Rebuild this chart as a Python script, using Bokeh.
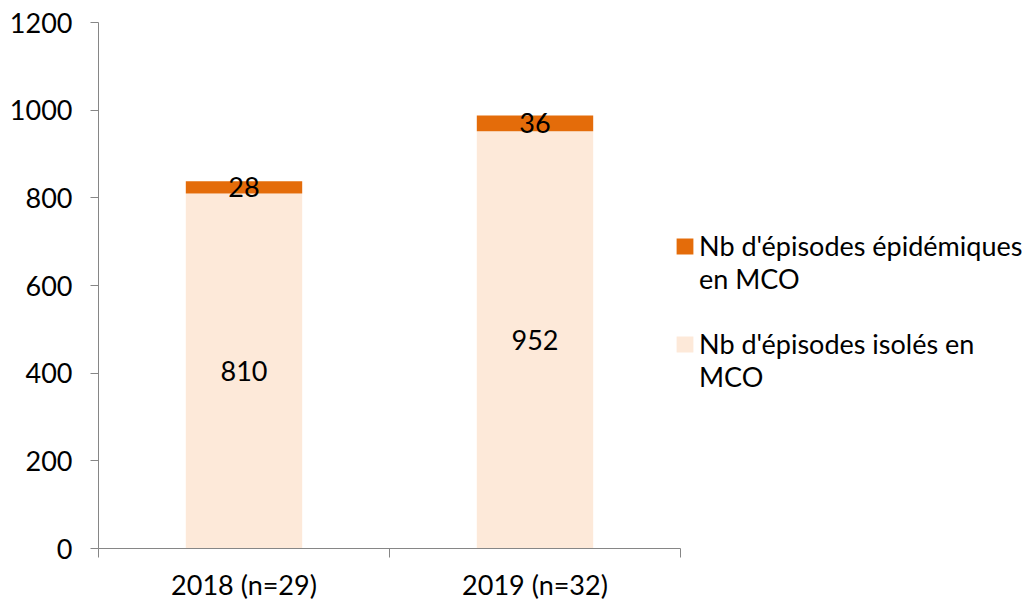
from bokeh.plotting import figure
from bokeh.models import ColumnDataSource, Range1d, LinearAxis, FixedTicker, Legend, LegendItem, LabelSet
from bokeh.core.properties import value
from bokeh.embed import file_html
from bokeh.resources import INLINE

categories = ["2018 (n=29)", "2019 (n=32)"]
isoles = [810, 952]
epidemiques = [28, 36]
yticks = [0, 200, 400, 600, 800, 1000, 1200]
legend_epi = ["Nb d'épisodes épidémiques", "en MCO"]
legend_iso = ["Nb d'épisodes isolés en", "MCO"]

FONT = "Lato"
FS = "27px"
C_EPI = "#E46C0A"
C_ISO = "#FDE9D9"
AXIS_C = "#868686"

xpos = [i + 0.5 for i in range(len(categories))]
src = ColumnDataSource(dict(
    x=xpos,
    isoles=isoles,
    epid=epidemiques,
    iso_mid=[v / 2 for v in isoles],
    epi_mid=[a + b / 2 for a, b in zip(isoles, epidemiques)],
    iso_lbl=[str(v) for v in isoles],
    epi_lbl=[str(v) for v in epidemiques],
))

p = figure(width=1015, height=584, output_backend="svg", toolbar_location=None,
           x_range=Range1d(0, len(categories)), y_range=Range1d(0, 1200),
           frame_width=582, frame_height=526,
           min_border_left=98, min_border_top=22, min_border_right=343, min_border_bottom=50,
           x_axis_location=None, y_axis_location=None)
p.outline_line_color = None
p.xgrid.visible = False
p.ygrid.visible = False
p.background_fill_color = "white"
p.border_fill_color = "white"

rs = p.vbar_stack(["isoles", "epid"], x="x", width=0.4, source=src,
                  color=[C_ISO, C_EPI], line_color=None)
# invisible renderer used only for continuation lines of the legend
blank = p.scatter(x=[], y=[], alpha=0)

# y axis
yax = LinearAxis(ticker=FixedTicker(ticks=yticks))
yax.axis_line_color = AXIS_C
yax.major_tick_line_color = AXIS_C
yax.major_tick_out = 8
yax.major_tick_in = 0
yax.minor_tick_line_color = None
yax.major_label_standoff = 18
yax.major_label_text_font = FONT
yax.major_label_text_font_size = FS
yax.major_label_text_color = "black"
p.add_layout(yax, "left")

# x axis: boundary ticks
xax = LinearAxis(ticker=FixedTicker(ticks=list(range(len(categories) + 1))))
xax.axis_line_color = AXIS_C
xax.major_tick_line_color = AXIS_C
xax.major_tick_out = 9
xax.major_tick_in = 0
xax.minor_tick_line_color = None
xax.major_label_overrides = {i: "" for i in range(len(categories) + 1)}
xax.major_label_text_font_size = "1px"
xax.major_label_standoff = 0
p.add_layout(xax, "below")

# x axis: category labels
xlab = LinearAxis(ticker=FixedTicker(ticks=xpos))
xlab.axis_line_color = None
xlab.major_tick_line_color = None
xlab.minor_tick_line_color = None
xlab.major_label_overrides = {x: c for x, c in zip(xpos, categories)}
xlab.major_label_text_font = FONT
xlab.major_label_text_font_size = FS
xlab.major_label_text_color = "black"
xlab.major_label_standoff = 4
p.add_layout(xlab, "below")

for ycol, tcol in (("iso_mid", "iso_lbl"), ("epi_mid", "epi_lbl")):
    ls = LabelSet(x="x", y=ycol, text=tcol, source=src, text_align="center",
                  text_baseline="middle", text_font=value(FONT), text_font_size=value(FS),
                  text_color="black")
    p.add_layout(ls)

legend = Legend(items=[LegendItem(label=legend_epi[0], renderers=[rs[1]]),
                       LegendItem(label=legend_epi[1], renderers=[blank]),
                       LegendItem(label=" ", renderers=[blank]),
                       LegendItem(label=legend_iso[0], renderers=[rs[0]]),
                       LegendItem(label=legend_iso[1], renderers=[blank])],
                location=(-6, 155))
legend.border_line_color = None
legend.background_fill_alpha = 0
legend.padding = 0
legend.margin = 0
legend.glyph_width = 21
legend.glyph_height = 20
legend.label_height = 32
legend.label_text_font = FONT
legend.label_text_font_size = FS
legend.label_text_color = "black"
legend.label_standoff = 4
legend.spacing = 0
p.add_layout(legend, "right")

open("out.html", "w").write(file_html(p, INLINE))
